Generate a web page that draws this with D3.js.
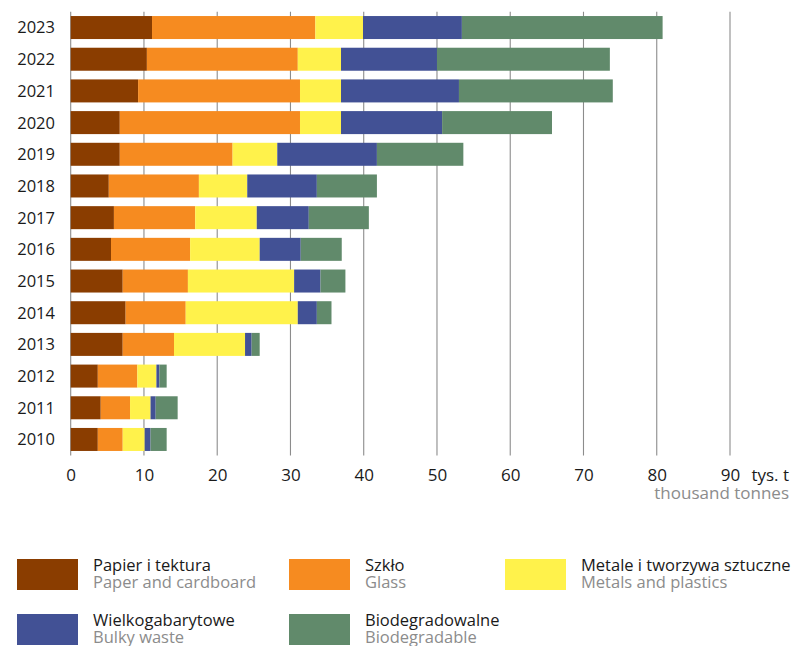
<!DOCTYPE html>
<html>
<head>
<meta charset="utf-8">
<script src="https://cdn.jsdelivr.net/npm/d3@7"></script>
<style>
  body { margin: 0; background: #fff; }
  svg text { font-family: "Open Sans", "Noto Sans", sans-serif; }
</style>
</head>
<body>
<div id="svgBody"></div>
<script>
// data (thousand tonnes)
var years = ["2023", "2022", "2021", "2020", "2019", "2018", "2017", "2016", "2015", "2014", "2013", "2012", "2011", "2010"];
var paper   = [11.1, 10.4, 9.2, 6.7, 6.7, 5.2, 5.9, 5.5, 7.1, 7.5, 7.1, 3.7, 4.1, 3.7];
var glass   = [22.3, 20.6, 22.1, 24.6, 15.4, 12.3, 11.1, 10.8, 8.9, 8.2, 7.0, 5.4, 4.0, 3.4];
var metals  = [6.5, 5.9, 5.6, 5.6, 6.1, 6.6, 8.4, 9.5, 14.5, 15.3, 9.7, 2.6, 2.8, 3.0];
var bulky   = [13.5, 13.1, 16.1, 13.8, 13.6, 9.5, 7.1, 5.6, 3.6, 2.6, 0.9, 0.4, 0.7, 0.8];
var biodeg  = [27.4, 23.6, 21.0, 15.0, 11.8, 8.2, 8.2, 5.6, 3.4, 2.0, 1.1, 1.0, 3.0, 2.2];
var xTicks = [0, 10, 20, 30, 40, 50, 60, 70, 80, 90];

var seriesKeys = ["paper", "glass", "metals", "bulky", "biodeg"];
var seriesPl = ["Papier i tektura", "Szkło", "Metale i tworzywa sztuczne", "Wielkogabarytowe", "Biodegradowalne"];
var seriesEn = ["Paper and cardboard", "Glass", "Metals and plastics", "Bulky waste", "Biodegradable"];
var colors = ["#8a3d00", "#f68b20", "#fff24b", "#425195", "#618a6b"];

var width = 794, height = 646;

var svg = d3.select("#svgBody")
    .append("svg")
    .attr("width", width)
    .attr("height", height);

// build table for stacking
var table = years.map(function(yr, i) {
    return { year: yr, paper: paper[i], glass: glass[i], metals: metals[i], bulky: bulky[i], biodeg: biodeg[i] };
});
var stacked = d3.stack().keys(seriesKeys)(table);

var x = d3.scaleLinear()
    .domain([0, 90])
    .range([70.7, 730]);

var y = d3.scaleBand()
    .domain(years)
    .range([11.7, 455.3])
    .paddingInner(0.274)
    .paddingOuter(0.137);

// vertical grid lines
svg.append("g")
    .selectAll("line")
    .data(xTicks)
    .enter()
    .append("line")
    .attr("x1", function(d) { return x(d); })
    .attr("x2", function(d) { return x(d); })
    .attr("y1", 11.7)
    .attr("y2", 455.5)
    .attr("stroke", "#8c8c8c")
    .attr("stroke-width", 1.1);

// bars
svg.append("g")
    .selectAll("g")
    .data(stacked)
    .enter()
    .append("g")
    .attr("fill", function(d, i) { return colors[i]; })
    .selectAll("rect")
    .data(function(d) { return d; })
    .enter()
    .append("rect")
    .attr("x", function(d) { return x(d[0]); })
    .attr("y", function(d) { return y(d.data.year); })
    .attr("width", function(d) { return x(d[1]) - x(d[0]); })
    .attr("height", y.bandwidth());

// year labels
svg.append("g")
    .selectAll("text")
    .data(years)
    .enter()
    .append("text")
    .attr("x", 55)
    .attr("y", function(d) { return y(d) + y.bandwidth() / 2; })
    .attr("dy", "0.36em")
    .style("text-anchor", "end")
    .attr("font-size", "16.5px")
    .attr("fill", "#1a1a1a")
    .text(function(d) { return d; });

// x axis tick labels
var xAxis = svg.append("g")
    .attr("transform", "translate(0,0)")
    .call(d3.axisBottom(x).tickValues(xTicks).tickSize(0).tickPadding(0));
xAxis.select(".domain").remove();
xAxis.selectAll("text")
    .attr("y", 481)
    .attr("dy", null)
    .attr("font-size", "17px")
    .attr("font-family", "Open Sans, Noto Sans, sans-serif")
    .attr("fill", "#1a1a1a");

svg.append("text")
    .attr("x", 789)
    .attr("y", 481)
    .style("text-anchor", "end")
    .attr("font-size", "17px")
    .attr("fill", "#1a1a1a")
    .text("tys. t");

svg.append("text")
    .attr("x", 789)
    .attr("y", 498.5)
    .style("text-anchor", "end")
    .attr("font-size", "17px")
    .attr("fill", "#8c8c8c")
    .text("thousand tonnes");

// legend
var legendX = [17, 289, 505, 17, 289];
var legendY = [559, 559, 559, 614, 614];
var legend = svg.append("g")
    .selectAll("g")
    .data(seriesKeys)
    .enter()
    .append("g")
    .attr("transform", function(d, i) { return "translate(" + legendX[i] + "," + legendY[i] + ")"; });

legend.append("rect")
    .attr("width", 61)
    .attr("height", 31)
    .attr("fill", function(d, i) { return colors[i]; });

legend.append("text")
    .attr("x", 76)
    .attr("y", 11.5)
    .attr("font-size", "16.5px")
    .attr("fill", "#1a1a1a")
    .text(function(d, i) { return seriesPl[i]; });

legend.append("text")
    .attr("x", 76)
    .attr("y", 28.5)
    .attr("font-size", "16.5px")
    .attr("fill", "#8c8c8c")
    .text(function(d, i) { return seriesEn[i]; });
</script>
</body>
</html>
